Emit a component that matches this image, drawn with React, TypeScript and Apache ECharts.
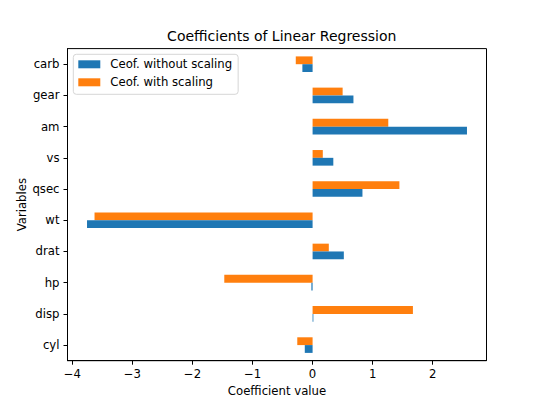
import React, { useEffect, useRef } from "react";
import * as echarts from "echarts";

const categories = ["cyl", "disp", "hp", "drat", "wt", "qsec", "vs", "am", "gear", "carb"];
const withoutScaling = [-0.13, 0.013, -0.02, 0.52, -3.755, 0.83, 0.345, 2.57, 0.68, -0.17];
const withScaling = [-0.255, 1.67, -1.47, 0.27, -3.63, 1.445, 0.17, 1.26, 0.5, -0.28];
const xTicks = [-4, -3, -2, -1, 0, 1, 2];
const seriesNames = ["Ceof. without scaling", "Ceof. with scaling"];

const FONT = "DejaVu Sans";

export default function App() {
  const ref = useRef<HTMLDivElement>(null);
  useEffect(() => {
    if (!ref.current) return;
    const chart = echarts.init(ref.current, undefined, { renderer: "svg" });
    chart.setOption({
      animation: false,
      backgroundColor: "#ffffff",
      textStyle: { fontFamily: FONT },
      title: {
        text: "Coefficients of Linear Regression",
        left: 276.75,
        top: 24,
        textAlign: "center",
        textStyle: { fontFamily: FONT, fontSize: 14, fontWeight: "normal", color: "#000" },
      },
      legend: {
        orient: "vertical",
        left: 73.3,
        top: 54.3,
        padding: [3, 6, 5, 5],
        itemGap: 4,
        itemWidth: 22,
        itemHeight: 8,
        icon: "rect",
        backgroundColor: "rgba(255,255,255,0.8)",
        borderColor: "#d6d6d6",
        borderWidth: 1,
        borderRadius: 3,
        data: seriesNames,
        textStyle: { fontFamily: FONT, fontSize: 11.7, color: "#000", lineHeight: 14, padding: [0, 0, 0, 5] },
      },
      grid: {
        left: 67.5,
        right: 53.5,
        top: 48.6,
        bottom: 44.3,
        show: true,
        borderColor: "#000",
        borderWidth: 1,
        containLabel: false,
      },
      xAxis: {
        type: "value",
        min: -4.08,
        max: 2.895,
        name: "Coefficient value",
        nameLocation: "middle",
        nameGap: 23,
        nameTextStyle: { fontFamily: FONT, fontSize: 11.7, color: "#000" },
        axisLine: { show: true, onZero: false, lineStyle: { color: "#000", width: 1 } },
        axisTick: { show: true, inside: false, length: 4, customValues: xTicks, lineStyle: { color: "#000", width: 1 } },
        axisLabel: {
          customValues: xTicks,
          margin: 7,
          fontFamily: FONT,
          fontSize: 11.7,
          color: "#000",
          formatter: (v: number) => String(v).replace("-", "\u2212"),
        },
        splitLine: { show: false },
      },
      yAxis: {
        type: "category",
        data: categories,
        name: "Variables",
        nameLocation: "middle",
        nameGap: 40,
        nameMoveOverlap: false,
        nameRotate: 90,
        nameTextStyle: { fontFamily: FONT, fontSize: 11.7, color: "#000" },
        axisLine: { show: true, onZero: false, lineStyle: { color: "#000", width: 1 } },
        axisTick: { show: true, alignWithLabel: true, inside: false, length: 4, lineStyle: { color: "#000", width: 1 } },
        axisLabel: { margin: 8, fontFamily: FONT, fontSize: 11.7, color: "#000" },
        splitLine: { show: false },
      },
      series: [
        {
          name: seriesNames[1],
          type: "bar",
          data: withScaling,
          barWidth: "25%",
          barGap: "0%",
          barCategoryGap: "50%",
          itemStyle: { color: "#ff7f0e" },
        },
        {
          name: seriesNames[0],
          type: "bar",
          data: withoutScaling,
          barWidth: "25%",
          barGap: "0%",
          barCategoryGap: "50%",
          itemStyle: { color: "#1f77b4" },
        },
      ],
    });
    return () => chart.dispose();
  }, []);
  return (
    <div
      ref={ref}
      style={{ position: "fixed", left: 0, top: 0, width: 540, height: 405, background: "#fff" }}
    />
  );
}
